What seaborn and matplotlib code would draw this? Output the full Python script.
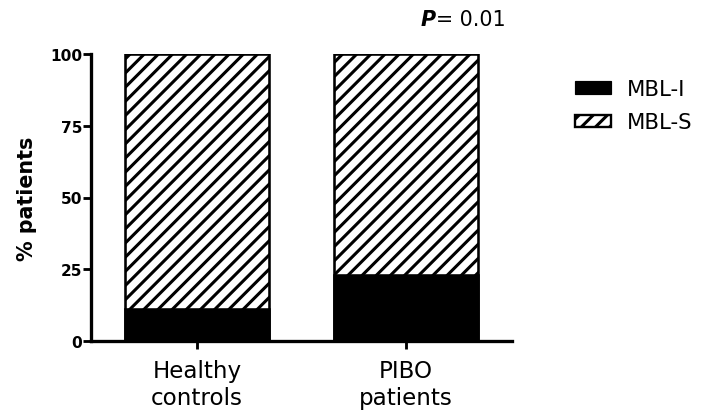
import matplotlib
matplotlib.use("Agg")
import matplotlib.pyplot as plt
from matplotlib.patches import Patch
import seaborn as sns
import pandas as pd

groups = ["Healthy\ncontrols", "PIBO\npatients"]
mbl_i = [11, 23]
mbl_s = [89, 77]
series_names = ["MBL-I", "MBL-S"]
y_ticks = [0, 25, 50, 75, 100]
p_text = "= 0.01"

sns.set_theme(style="ticks")
plt.rcParams["font.family"] = ["DejaVu Sans"]
plt.rcParams["hatch.linewidth"] = 2.6
for k in ["text.color", "axes.labelcolor", "xtick.color", "ytick.color", "axes.edgecolor"]:
    plt.rcParams[k] = "black"

DPI = 85
fig = plt.figure(figsize=(704 / DPI, 412 / DPI), dpi=DPI)
ax = fig.add_axes([91 / 704, 1 - 342 / 412, 421 / 704, 287 / 412])

df = pd.DataFrame({"group": groups, "MBL-I": mbl_i, "MBL-S": mbl_s})
df["total"] = df["MBL-I"] + df["MBL-S"]

sns.barplot(data=df, x="group", y="total", color="white", edgecolor="black",
            linewidth=2.2, hatch="//", width=0.685, ax=ax, saturation=1)
sns.barplot(data=df, x="group", y="MBL-I", color="black", edgecolor="black",
            linewidth=2.2, width=0.685, ax=ax, saturation=1)

ax.set_xlim(-0.507, 1.507)
ax.set_ylim(0, 100)
ax.set_yticks(y_ticks)
ax.set_yticklabels([str(t) for t in y_ticks], fontsize=13, fontweight="bold")
ax.set_xticks([0, 1])
ax.set_xticklabels(groups, fontsize=19.5, linespacing=1.2)
ax.set_xlabel("")
ax.set_ylabel("% patients", fontsize=17.5, fontweight="bold", labelpad=11)
for s in ["top", "right"]:
    ax.spines[s].set_visible(False)
for s in ["left", "bottom"]:
    ax.spines[s].set_linewidth(2.8)
ax.tick_params(axis="both", width=2.4, color="black")
ax.tick_params(axis="y", length=6.5, pad=1)
ax.tick_params(axis="x", length=6.5, pad=9)

fig.text(436 / 704, 1 - 20 / 412, "P", fontsize=17.5,
         ha="right", va="center", style="italic", fontweight="bold")
fig.text(436 / 704, 1 - 20 / 412, p_text, fontsize=17.5, ha="left", va="center")

handles = [Patch(facecolor="black", edgecolor="black", label=series_names[0]),
           Patch(facecolor="white", edgecolor="black", hatch="//", linewidth=2,
                 label=series_names[1])]
fig.legend(handles=handles, loc="upper left", bbox_to_anchor=(575 / 704, 1 - 80 / 412),
           frameon=False, fontsize=18, handlelength=1.7, handleheight=0.5,
           handletextpad=0.75, labelspacing=0.62, borderaxespad=0, borderpad=0)

fig.savefig("out.png", dpi=DPI)
